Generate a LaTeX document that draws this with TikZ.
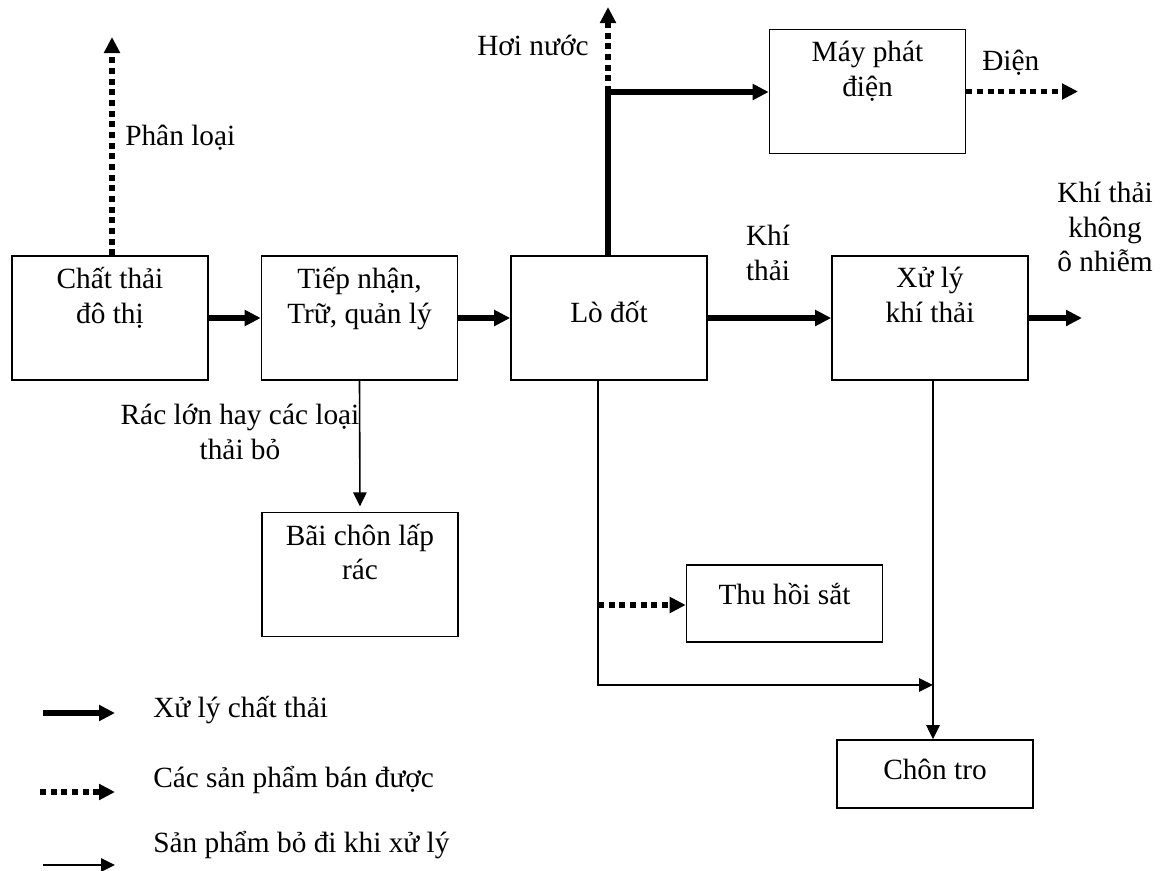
\documentclass[tikz,border=0pt]{standalone}
\usepackage{fontspec}
\setmainfont{Liberation Serif}
\usetikzlibrary{arrows.meta,positioning}
\tikzset{
    every picture/.style={line join=miter},
    procbox/.style={draw=black,line width=1.2pt,
      minimum width=147pt,minimum height=93pt,inner sep=0pt},
    flowlabel/.style={font=\fontsize{22}{26}\selectfont,inner sep=0pt,
      align=center,anchor=north,execute at begin node={\rule{0pt}{21pt}}},
    boxtext/.style={flowlabel,below=9pt of #1.north},
    mainflow/.style={-{Triangle[length=12pt,width=11.5pt]},line width=3.8pt},
    soldflow/.style={-{Triangle[length=12pt,width=11.5pt]},line width=4pt,
      dash pattern=on 4.5pt off 3.5pt},
    wasteflow/.style={-{Triangle[length=10.5pt,width=10pt]},line width=1.2pt}
}
\begin{document}
\begin{tikzpicture}[x=0.75pt,y=-0.75pt]
  \useasboundingbox (0,0) rectangle (1161,871);

  % main line
  \node[procbox] (cttd) at (110,318) {};
  \node[boxtext=cttd] (cttd-t) {Chất thải\\đô thị};
  \node[procbox] (tiep) at (359.5,318) {};
  \node[boxtext=tiep] (tiep-t) {Tiếp nhận,\\Trữ, quản lý};
  \node[procbox] (lodot) at (609,318) {};
  \node[flowlabel,below=29pt of lodot.north] (lodot-t) {Lò đốt};
  \node[procbox] (xlkt) at (930,318) {};
  \node[boxtext=xlkt] (xlkt-t) {Xử lý\\khí thải};

  % side boxes
  \node[procbox] (mpd) at (867.5,91.5) {};
  \node[boxtext=mpd] (mpd-t) {Máy phát\\điện};
  \node[procbox] (bcl) at (360,574.5) {};
  \node[boxtext=bcl] (bcl-t) {Bãi chôn lấp\\rác};
  \node[procbox,minimum height=58pt] (thsat) at (784.5,603.5) {};
  \node[boxtext=thsat] (thsat-t) {Thu hồi sắt};
  \node[procbox,minimum height=51pt] (ctro) at (935,774) {};
  \node[boxtext=ctro] (ctro-t) {Chôn tro};

  \coordinate (sort-end) at (112,37);
  \coordinate (steam-end) at (608,7);
  \coordinate (junc) at (608,92);
  \coordinate (power-end) at (1078,91.5);
  \coordinate (clean-end) at (1082,318);
  \coordinate (iron-split) at (598,605);
  \coordinate (ash-turn) at (598,685);
  \coordinate (ash-x) at (933,685);

  % flows
  \draw[soldflow] (cttd.north -| sort-end) -- (sort-end);
  \node[flowlabel,anchor=north west] (sort-l) at (125,117) {Phân loại};
  \draw[mainflow] (cttd) -- (tiep);
  \draw[mainflow] (tiep) -- (lodot);
  \draw[mainflow] (lodot) -- (xlkt);
  \node[flowlabel] (gas-l) at (768,225) {Khí\\thải};
  \draw[mainflow] (xlkt) -- (clean-end);
  \node[flowlabel] (clean-l) at (1105,182) {Khí thải\\không\\ô nhiễm};

  \draw[soldflow] (junc) -- (steam-end);
  \node[flowlabel,anchor=north west] (steam-l) at (477,27) {Hơi nước};
  \draw[mainflow] (lodot.north -| junc) -- (junc) -- (junc -| mpd.west);
  \draw[soldflow] (mpd.east) -- (power-end);
  \node[flowlabel,anchor=north west] (power-l) at (982,42) {Điện};

  \draw[wasteflow,shorten >=4pt] (tiep.south) -- (bcl.north);
  \node[flowlabel] (bulky-l) at (240,404) {Rác lớn hay các loại\\thải bỏ};

  \draw[wasteflow] (lodot.south -| ash-turn) -- (ash-turn) -- (ash-x);
  \draw[soldflow] (iron-split) -- (iron-split -| thsat.west);
  \draw[wasteflow] (xlkt.south -| ash-x) -- (ash-x |- ctro.north);

  % legend
  \coordinate (lg1a) at (43,713);  \coordinate (lg1b) at (115,713);
  \coordinate (lg2a) at (40,792);  \coordinate (lg2b) at (115,792);
  \coordinate (lg3a) at (43,865);  \coordinate (lg3b) at (115,865);
  \draw[mainflow] (lg1a) -- (lg1b);
  \draw[soldflow] (lg2a) -- (lg2b);
  \draw[wasteflow] (lg3a) -- (lg3b);
  \node[flowlabel,anchor=north west] (lg1-t) at (153,689) {Xử lý chất thải};
  \node[flowlabel,anchor=north west] (lg2-t) at (153,759) {Các sản phẩm bán được};
  \node[flowlabel,anchor=north west] (lg3-t) at (153,824) {Sản phẩm bỏ đi khi xử lý};
\end{tikzpicture}
\end{document}
